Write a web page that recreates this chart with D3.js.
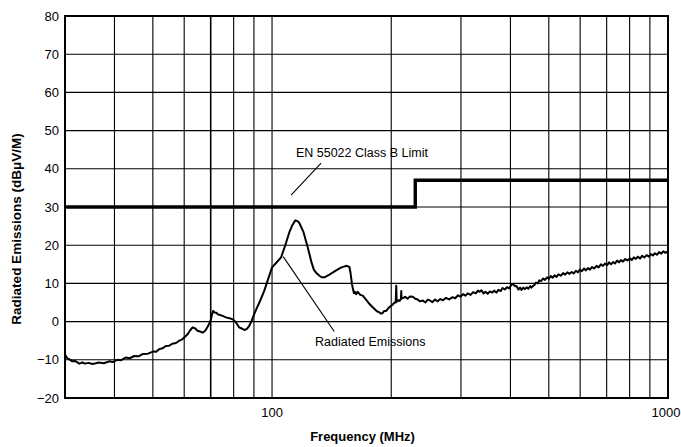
<!DOCTYPE html>
<html>
<head>
<meta charset="utf-8">
<script src="https://cdn.jsdelivr.net/npm/d3@7"></script>
<style>
  html, body { margin: 0; padding: 0; background: #fff; }
  text { font-family: "Liberation Sans", Arial, sans-serif; fill: #000; }
</style>
</head>
<body>
<div id="chart"></div>
<script>
const emFreq = [
  30, 30.4, 30.8, 31.3, 31.8, 32.6, 33.2, 33.7, 34.4, 35.2, 35.9, 36.5, 37.6, 38.8, 39.6, 40.6,
  41.6, 42.7, 43.7, 44.9, 46.0, 47.1, 48.6, 50.2, 51.0, 51.9, 52.9, 53.9, 55.0, 56.0, 57.2, 58.3,
  59.2, 60.0, 61.2, 62.2, 63.0, 64.0, 64.8, 65.8, 66.8, 67.8, 68.7, 69.5, 70.1, 70.6, 71.0, 71.6,
  72.3, 73.0, 73.6, 75.0, 76.5, 78.0, 79.5, 80.4, 81.2, 82.0, 82.6, 83.8, 85.1, 86.4, 87.6, 88.9,
  90.2, 91.5, 92.9, 94.2, 95.6, 97.8, 100, 102.5, 105.4, 108, 110.6, 112.6, 114.5, 116.0, 117.2, 120,
  123.1, 125.8, 127.5, 129.2, 131.7, 133.5, 135.6, 139.6, 145.2, 149.7, 154.4, 156.8, 157.7, 158.4, 159.2, 159.9,
  161.0, 162.0, 163.1, 164.6, 167.0, 169.5, 172.5, 176.3, 179, 181.5, 184, 186.8, 188.5, 190.1, 192, 194.3,
  197, 199.2, 201, 203.9, 205.3, 205.9, 206.4, 208.5, 210, 211.6, 212, 212.4, 214.5, 217, 219.9, 223,
  226.8, 230, 233.1, 236.5, 240.4, 244, 247, 250, 254, 258, 262, 266, 270.2, 275, 280, 285.8,
  290, 295, 299, 303.6, 308, 312, 317.4, 322, 327, 331, 334.5, 338, 342, 346, 350.5, 355,
  360, 364, 368.7, 373, 378, 382, 387.1, 392, 397, 402, 406.2, 410, 415, 419, 423, 426.4,
  431, 435, 439.8, 444, 449, 452, 456.3, 460, 464, 468.9, 473, 478, 484, 489, 495, 500,
  506, 511.8, 517, 523, 529, 536, 543.4, 550, 557, 564, 571.5, 578, 585, 592, 599, 606,
  614, 620, 627.6, 635, 643, 651, 660, 668, 677, 685, 693, 702, 710, 718, 727.3, 735,
  744, 752, 760.5, 770, 780, 790, 801.6, 810, 820, 830, 839.7, 850, 860, 872, 883.2, 895,
  905, 916, 927, 938, 950, 962, 973, 985, 1000
];
const emLevel = [
  -8.6, -9.6, -9.9, -10.4, -10.3, -11.0, -10.7, -11.0, -10.8, -11.1, -10.9, -10.7, -10.9, -10.4, -10.6, -10.0,
  -10.1, -9.4, -9.6, -9.0, -9.1, -8.5, -8.4, -7.8, -7.9, -7.2, -7.0, -6.4, -6.3, -5.8, -5.6, -5.0,
  -4.7, -4.2, -3.3, -2.2, -1.5, -1.8, -2.4, -2.6, -2.9, -2.4, -1.4, -0.4, 0.6, 2.0, 2.8, 2.4,
  2.3, 1.9, 1.8, 1.5, 1.1, 0.9, 0.6, 0.2, -0.3, -1.0, -1.5, -1.8, -2.2, -1.9, -1.1, 0.3,
  2.0, 3.5, 5.0, 6.5, 8.1, 11.2, 14.2, 15.4, 16.8, 20.0, 23.4, 25.3, 26.5, 26.3, 25.8, 23.5,
  19.4, 15.5, 13.6, 12.8, 12.0, 11.6, 11.6, 12.3, 13.4, 14.2, 14.6, 14.3, 13.0, 11.5, 9.8, 8.8,
  7.4, 7.8, 7.2, 7.8, 7.0, 6.8, 5.8, 4.6, 3.9, 3.3, 2.7, 2.4, 2.1, 2.2, 2.8, 2.8,
  3.6, 4.0, 4.3, 5.0, 5.0, 9.4, 5.2, 5.6, 5.4, 6.0, 8.0, 6.0, 6.2, 6.5, 6.0, 6.6,
  6.5, 6.0, 5.8, 5.3, 5.5, 5.0, 5.7, 5.6, 5.1, 5.8, 5.3, 5.9, 5.6, 6.2, 5.8, 6.4,
  6.1, 6.9, 6.5, 7.2, 6.8, 7.4, 7.0, 7.7, 7.4, 8.1, 7.8, 8.2, 7.4, 7.8, 7.3, 7.9,
  7.6, 8.1, 7.6, 8.3, 8.0, 8.8, 8.4, 9.0, 8.7, 9.6, 9.8, 9.4, 9.2, 8.4, 8.9, 8.3,
  8.9, 8.5, 9.0, 8.6, 9.3, 8.9, 9.3, 9.6, 10.2, 10.0, 10.8, 10.6, 11.3, 10.9, 11.6, 11.2,
  11.9, 11.5, 12.1, 11.7, 12.4, 12.0, 12.7, 12.3, 12.9, 12.5, 13.0, 12.6, 13.3, 12.9, 13.6, 13.2,
  13.9, 13.4, 14.0, 13.6, 14.3, 13.9, 14.6, 14.2, 15.0, 14.6, 15.2, 14.8, 15.5, 15.0, 15.6, 15.2,
  16.0, 15.5, 16.1, 15.7, 16.4, 16.0, 16.6, 16.1, 16.8, 16.4, 17.0, 16.5, 17.2, 16.8, 17.4, 17.0,
  17.7, 17.3, 17.9, 17.5, 18.2, 17.8, 18.4, 18.0, 18.4
];

// EN 55022 class B limit
const limitFreq = [30, 230, 230, 1000];
const limitLevel = [30, 30, 37, 37];

const yTicks = [-20, -10, 0, 10, 20, 30, 40, 50, 60, 70, 80];
const xGrid = [40, 50, 60, 70, 80, 90, 100, 200, 300, 400, 500, 600, 700, 800, 900];
const xLabels = [100, 1000];

function renderChart() {
    const width = 681;
    const height = 447;
    const margin = { top: 16, right: 13, bottom: 49, left: 65 };

    const svg = d3.select("#chart").append("svg")
        .attr("width", width)
        .attr("height", height)
        .style("display", "block");

    const x = d3.scaleLog().domain([30, 1000]).range([margin.left, width - margin.right]);
    const y = d3.scaleLinear().domain([-20, 80]).range([height - margin.bottom, margin.top]);

    // grid
    svg.append("g")
        .selectAll("line")
        .data(xGrid)
        .join("line")
        .attr("x1", (d) => x(d)).attr("x2", (d) => x(d))
        .attr("y1", y(-20)).attr("y2", y(80))
        .attr("stroke", "#000")
        .attr("stroke-width", (d) => d === 70 ? 1.6 : 1.1);

    svg.append("g")
        .selectAll("line")
        .data(yTicks)
        .join("line")
        .attr("x1", x(30)).attr("x2", x(1000))
        .attr("y1", (d) => y(d)).attr("y2", (d) => y(d))
        .attr("stroke", "#000")
        .attr("stroke-width", 1.1);

    // frame
    svg.append("rect")
        .attr("x", x(30)).attr("y", y(80))
        .attr("width", x(1000) - x(30))
        .attr("height", y(-20) - y(80))
        .attr("fill", "none")
        .attr("stroke", "#000")
        .attr("stroke-width", 2);

    // y tick labels
    svg.append("g")
        .selectAll("text")
        .data(yTicks)
        .join("text")
        .attr("x", x(30) - 6)
        .attr("y", (d) => y(d))
        .attr("dy", "0.36em")
        .attr("text-anchor", "end")
        .style("font-size", "13px")
        .text((d) => d < 0 ? "\u2212" + Math.abs(d) : d);

    // x tick labels
    svg.append("g")
        .selectAll("text")
        .data(xLabels)
        .join("text")
        .attr("x", (d) => d === 1000 ? x(d) - 2 : x(d))
        .attr("y", y(-20) + 19)
        .attr("text-anchor", "middle")
        .style("font-size", "13px")
        .text((d) => d);

    // limit line
    const limitRows = limitFreq.map((f, i) => ({ f, v: limitLevel[i] }));
    svg.append("path")
        .datum(limitRows)
        .attr("d", d3.line().x((d) => x(d.f)).y((d) => y(d.v)))
        .attr("fill", "none")
        .attr("stroke", "#000")
        .attr("stroke-width", 3.4);

    // emissions trace
    const emRows = emFreq.map((f, i) => ({ f, v: emLevel[i] }));
    svg.append("path")
        .datum(emRows)
        .attr("d", d3.line().x((d) => x(d.f)).y((d) => y(d.v)))
        .attr("fill", "none")
        .attr("stroke", "#000")
        .attr("stroke-width", 2)
        .attr("stroke-linejoin", "round");

    // annotations
    svg.append("line")
        .attr("x1", x(111.7)).attr("y1", y(33.1))
        .attr("x2", x(133)).attr("y2", y(41.5))
        .attr("stroke", "#000").attr("stroke-width", 1.1);
    svg.append("text")
        .attr("x", x(114.9)).attr("y", y(44.2))
        .attr("dy", "0.35em")
        .style("font-size", "12.5px")
        .text("EN 55022 Class B Limit");

    svg.append("line")
        .attr("x1", x(106.7)).attr("y1", y(17))
        .attr("x2", x(143.6)).attr("y2", y(-2.6))
        .attr("stroke", "#000").attr("stroke-width", 1.1);
    svg.append("text")
        .attr("x", x(128.4)).attr("y", y(-5.3))
        .attr("dy", "0.35em")
        .style("font-size", "12.5px")
        .text("Radiated Emissions");

    // axis titles
    svg.append("text")
        .attr("x", (x(30) + x(1000)) / 2 - 4)
        .attr("y", height - 6)
        .attr("text-anchor", "middle")
        .style("font-size", "13px")
        .style("font-weight", "bold")
        .text("Frequency (MHz)");

    svg.append("text")
        .attr("transform", `translate(21,${y(30) + 22}) rotate(-90)`)
        .attr("text-anchor", "middle")
        .style("font-size", "13.5px")
        .style("font-weight", "bold")
        .text("Radiated Emissions (dB\u03bcV/M)");
}

renderChart();
</script>
</body>
</html>
